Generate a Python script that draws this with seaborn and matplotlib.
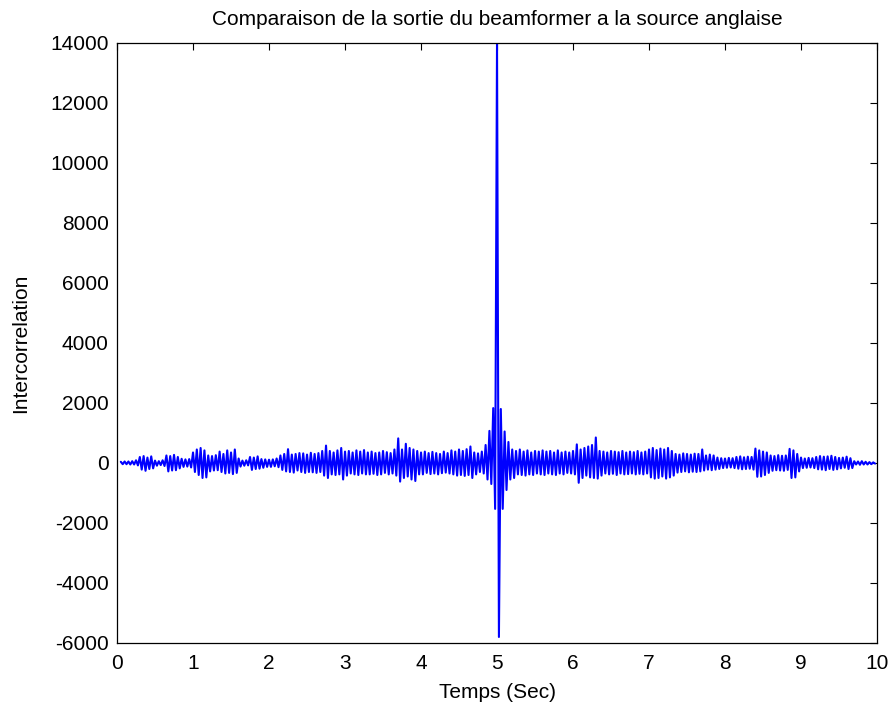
import numpy as np
import matplotlib
matplotlib.use("Agg")
import matplotlib.pyplot as plt
import seaborn as sns

# envelope of the intercorrelation, one value every 0.05 s
# positive peaks at t, negative peaks half a step later
t_start = 0.05
step = 0.05
upper = [
    40, 50, 50, 60, 90, 200, 230, 180, 220, 80, 60, 90, 250, 230, 270, 200, 140, 120, 130,
    350, 450, 500, 420, 250, 230, 260, 380, 300, 420, 350, 450, 150, 80, 90, 200, 180, 220, 130, 120,
    110, 120, 150, 250, 300, 460, 280, 300, 330, 320, 280, 340, 300, 330, 400, 580, 400, 350, 420, 500,
    380, 400, 350, 420, 380, 430, 350, 380, 330, 350, 400, 360, 330, 450, 820, 450, 640, 500, 450, 400,
    350, 380, 330, 370, 330, 300, 380, 330, 420, 380, 450, 400, 460, 550, 350, 320, 380, 600, 1070, 1830,
    14000, 1800, 1050, 700, 450, 400, 450, 380, 420, 350, 400, 380, 420, 380, 400, 350, 420, 350, 380, 350,
    400, 620, 450, 500, 550, 600, 850, 400, 380, 350, 400, 380, 360, 400, 350, 380, 360, 400, 350, 380,
    450, 500, 430, 480, 450, 500, 400, 300, 280, 320, 300, 280, 310, 300, 450, 250, 280, 250, 180, 160,
    150, 170, 160, 200, 220, 190, 210, 200, 480, 420, 380, 350, 250, 230, 260, 240, 250, 470, 420, 300,
    180, 150, 170, 160, 200, 230, 210, 220, 240, 200, 170, 180, 210, 160, 60, 50, 60, 40, 30, 20,
]
lower = [
    40, 40, 50, 50, 80, 220, 260, 200, 180, 90, 70, 100, 280, 250, 240, 180, 130, 120, 150,
    300, 400, 500, 480, 280, 250, 240, 300, 350, 330, 370, 330, 120, 90, 80, 230, 200, 190, 160, 130,
    130, 110, 140, 230, 280, 300, 320, 250, 300, 330, 300, 310, 330, 300, 420, 500, 380, 400, 380, 550,
    420, 350, 380, 400, 350, 380, 380, 360, 400, 380, 330, 380, 350, 420, 620, 500, 450, 550, 600, 380,
    380, 330, 370, 350, 380, 340, 320, 350, 380, 420, 400, 430, 400, 500, 380, 300, 350, 550, 700, 1530,
    5800, 1530, 900, 550, 500, 380, 400, 420, 380, 400, 350, 380, 400, 350, 380, 400, 350, 380, 330, 350,
    380, 660, 500, 420, 480, 500, 520, 420, 350, 380, 360, 400, 350, 380, 370, 350, 380, 360, 380, 350,
    480, 520, 500, 450, 520, 480, 420, 320, 300, 280, 310, 290, 300, 280, 250, 220, 240, 220, 200, 170,
    160, 150, 170, 190, 210, 200, 190, 220, 460, 450, 400, 330, 260, 240, 250, 260, 230, 500, 480, 280,
    170, 160, 150, 170, 210, 220, 240, 200, 230, 210, 180, 160, 200, 170, 50, 60, 50, 50, 40, 20,
]

times = []
values = []
for i in range(len(upper)):
    t = t_start + i * step
    times.append(t)
    values.append(upper[i])
    times.append(t + step / 2)
    values.append(-lower[i])

sns.set_style("white")
plt.rcParams["font.family"] = ["Liberation Sans", "DejaVu Sans"]
plt.rcParams["axes.unicode_minus"] = False
plt.rcParams["text.color"] = "black"
plt.rcParams["axes.labelcolor"] = "black"

fig = plt.figure(figsize=(8.94, 7.13), dpi=100)
ax = fig.add_axes([0.1309, 0.0982, 0.981 - 0.1309, 0.9397 - 0.0982])

sns.lineplot(x=times, y=values, sort=False, estimator=None, color="#0000ff", linewidth=1.5, ax=ax)

ax.set_xlim(0, 10)
ax.set_ylim(-6000, 14000)
ax.set_xticks(range(0, 11))
ax.set_yticks(range(-6000, 14001, 2000))
ax.tick_params(direction="in", length=5, width=0.8, top=True, right=True,
               labelsize=15, colors="black")
ax.tick_params(axis="x", pad=8)
ax.tick_params(axis="y", pad=6)
for s in ax.spines.values():
    s.set_color("black")
    s.set_linewidth(0.9)

ax.set_title("Comparaison de la sortie du beamformer a la source anglaise", fontsize=15, pad=13, color="black")
ax.set_xlabel("Temps (Sec)", fontsize=15, labelpad=7, color="black")
ax.set_ylabel("Intercorrelation", fontsize=15, labelpad=14, color="black")

fig.savefig("out.png", dpi=100)
